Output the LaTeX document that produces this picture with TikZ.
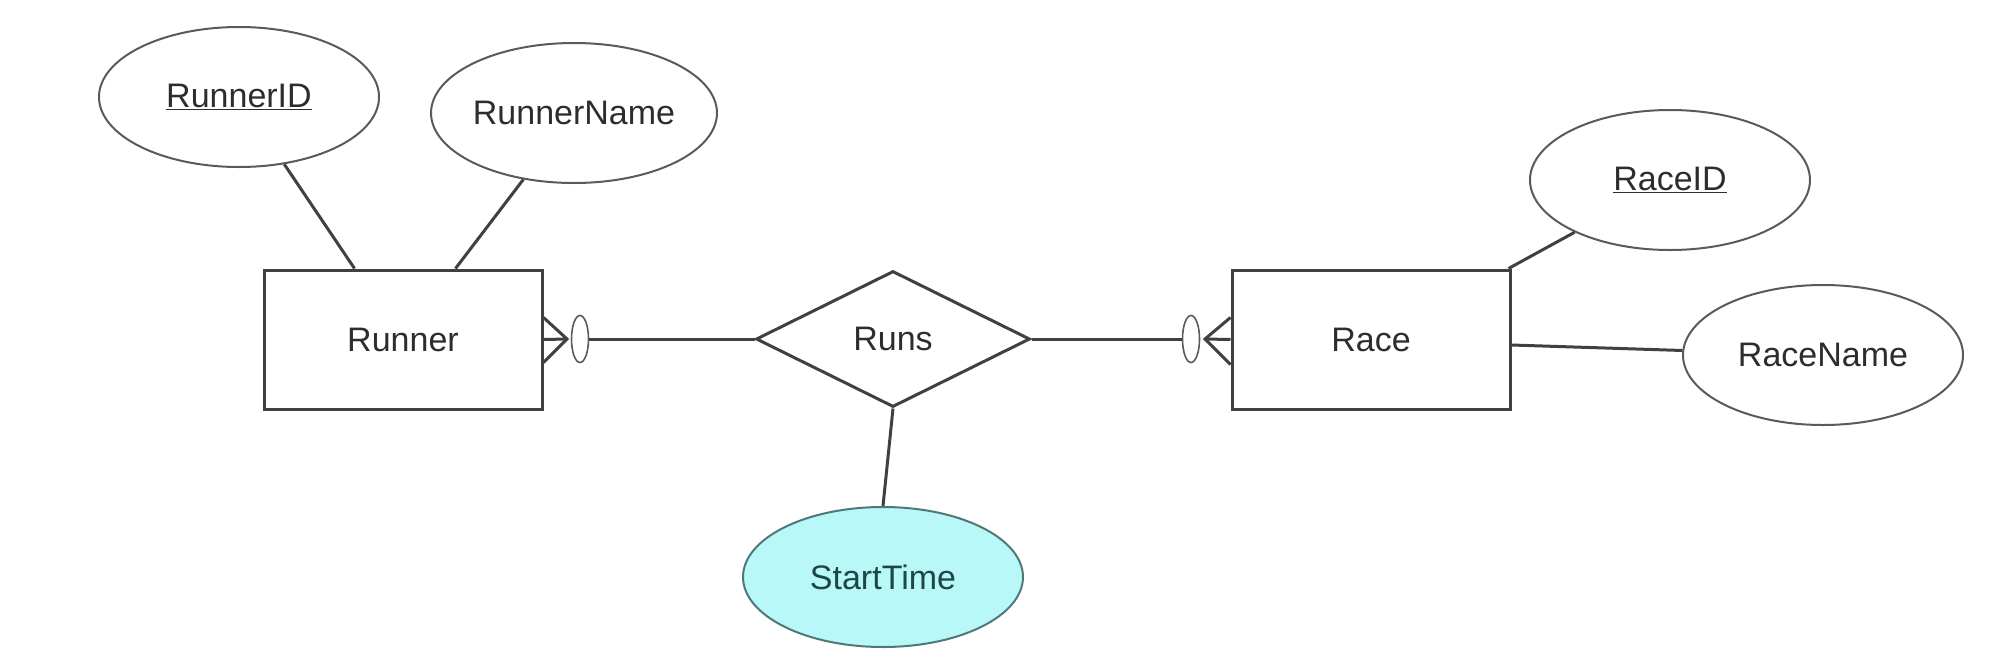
\documentclass[tikz,border=0pt]{standalone}
\usepackage{fontspec}
\setmainfont{Liberation Sans}
\usetikzlibrary{shapes.geometric}
\definecolor{lnc}{RGB}{64,64,64}
\definecolor{elc}{RGB}{90,90,90}
\definecolor{txc}{RGB}{45,45,45}
\definecolor{cyanfill}{RGB}{184,248,248}
\definecolor{cyanline}{RGB}{80,120,120}
\definecolor{cyantext}{RGB}{30,70,70}
\tikzset{
  every node/.style={font=\fontsize{34}{40}\selectfont, text=txc},
  entity/.style={draw=lnc, line width=3pt, minimum width=278pt, minimum height=139pt, inner sep=0pt},
  attr/.style={ellipse, draw=elc, line width=2pt, minimum width=280pt, minimum height=140pt, inner sep=0pt},
  rel/.style={diamond, draw=lnc, line width=3pt, minimum width=274pt, minimum height=136pt, inner sep=0pt, aspect=2},
  optc/.style={ellipse, draw=elc, line width=1.6pt, fill=white, minimum width=17pt, minimum height=47pt, inner sep=0pt},
  conn/.style={draw=lnc, line width=3pt},
}
\begin{document}
\begin{tikzpicture}[x=1pt,y=-1pt]
\useasboundingbox (0,0) rectangle (2006,667);
% entities
\node[entity] (runner) at (403,339.5) {Runner};
\node[entity] (race) at (1371,339.5) {Race};
% relationship
\node[rel] (runs) at (893,339) {Runs};
% attributes
\node[attr] (rid) at (239,97) {\underline{RunnerID}};
\node[attr] (rname) at (574,113) {RunnerName};
\node[attr] (raceid) at (1670,180) {\underline{RaceID}};
\node[attr] (racename) at (1823,355) {RaceName};
\node[attr, fill=cyanfill, draw=cyanline, text=cyantext] (start) at (883,577) {StartTime};
% optional circles
\node[optc] (oc1) at (580,339) {};
\node[optc] (oc2) at (1191,339) {};
% crow's feet apexes
\coordinate (ap1) at (567,339);
\coordinate (ap2) at (1205,339);
% attribute connectors
\draw[conn] (rid) -- ([xshift=92pt]runner.north west);
\draw[conn] (rname) -- ([xshift=193pt]runner.north west);
\draw[conn] (raceid) -- ([xshift=-3pt]race.north east);
\draw[conn] ([yshift=-5.5pt]race.east) -- (racename);
\draw[conn] (runs.south) -- (start.north);
% relationship connectors
\draw[conn] (runs.west) -- (oc1.east);
\draw[conn] (runs.east) -- (oc2.west);
% crow's foot at Runner
\draw[conn] (runner.east) -- (ap1);
\draw[conn] ([yshift=22pt]runner.east) -- (ap1) -- ([yshift=-23pt]runner.east);
% crow's foot at Race
\draw[conn] (race.west) -- (ap2);
\draw[conn] ([yshift=22pt]race.west) -- (ap2) -- ([yshift=-25pt]race.west);
\end{tikzpicture}
\end{document}
